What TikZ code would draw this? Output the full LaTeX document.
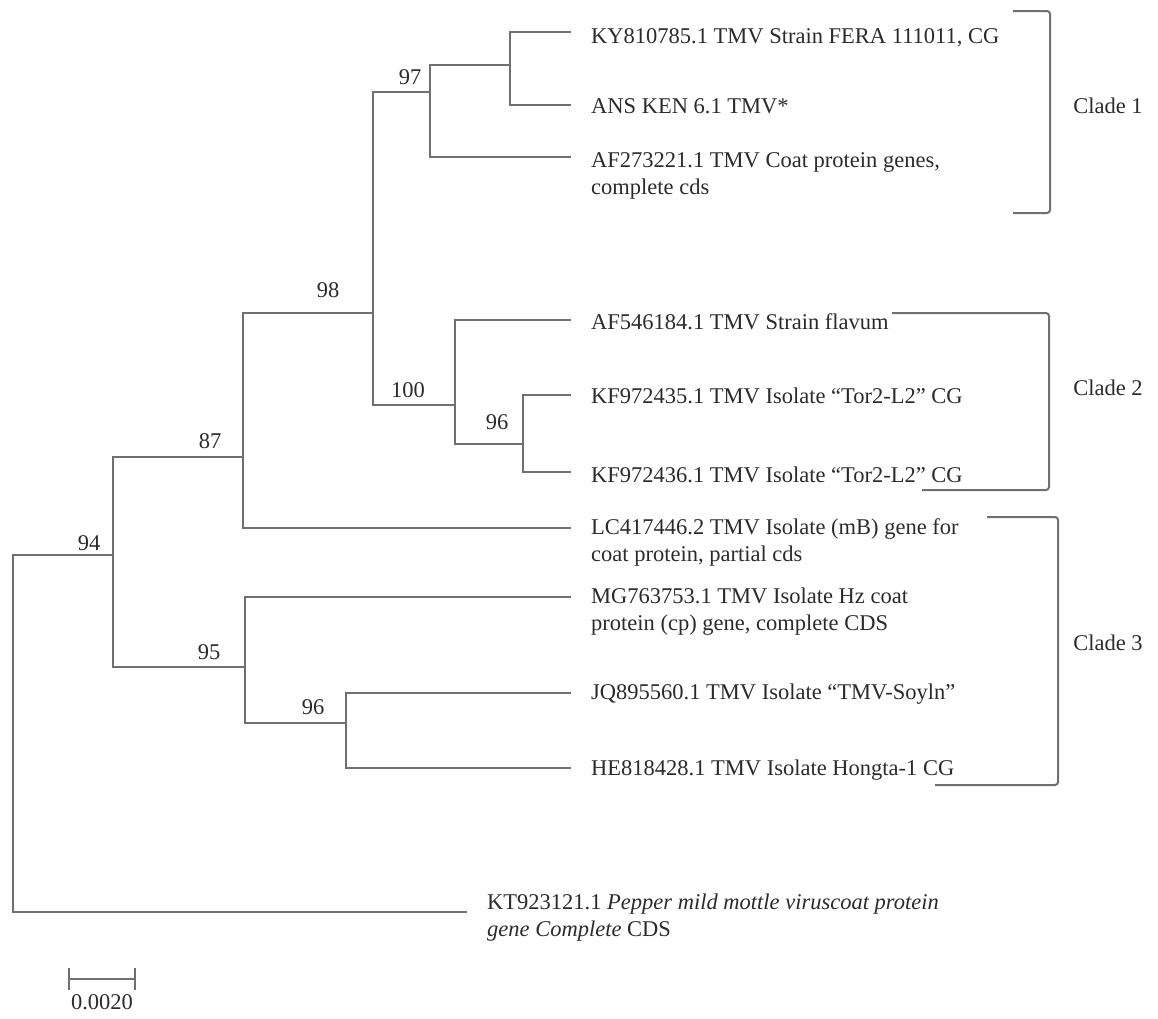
\documentclass[tikz,border=0pt]{standalone}
\usepackage{fontspec}
\setmainfont{Liberation Serif}
\definecolor{linegray}{HTML}{707070}
\definecolor{txt}{HTML}{2B2B2B}
\begin{document}
\begin{tikzpicture}[x=1pt,y=-1pt,
  br/.style={draw=linegray, line width=2pt},
  clade/.style={draw=linegray, line width=2pt, rounded corners=3pt},
  lbl/.style={anchor=base west, inner sep=0pt, text=txt, font=\fontsize{22.5}{27}\selectfont, align=left},
  boot/.style={inner sep=0pt, text=txt, font=\fontsize{22.5}{27}\selectfont},
  cladelbl/.style={inner sep=0pt, text=txt, font=\fontsize{22.5}{27}\selectfont}]
\useasboundingbox (0,0) rectangle (1158,1018);

% internal nodes
\coordinate (root) at (13,555);
\coordinate (n94) at (113,555);
\coordinate (n87) at (243,457);
\coordinate (n95) at (245,667);
\coordinate (n98) at (373,313);
\coordinate (n97) at (430,92);
\coordinate (na)  at (510,65);
\coordinate (n100) at (455,405);
\coordinate (n96a) at (523,444);
\coordinate (n96b) at (346,723);
% leaf tips
\coordinate (lKY)   at (571,32);
\coordinate (lANS)  at (571,105);
\coordinate (lAF2)  at (571,157);
\coordinate (lAF5)  at (571,320);
\coordinate (lKF35) at (571,395);
\coordinate (lKF36) at (571,472);
\coordinate (lLC)   at (571,528);
\coordinate (lMG)   at (571,597);
\coordinate (lJQ)   at (571,693);
\coordinate (lHE)   at (571,768);
\coordinate (lKT)   at (467,912);

% branches
\draw[br] (n94) -- (root) |- (lKT);
\draw[br] (n87) -| (n94) |- (n95);
\draw[br] (n98) -| (n87) |- (lLC);
\draw[br] (n97) -| (n98) |- (n100);
\draw[br] (na) -| (n97) |- (lAF2);
\draw[br] (lKY) -| (na) |- (lANS);
\draw[br] (lAF5) -| (n100) |- (n96a);
\draw[br] (lKF35) -| (n96a) |- (lKF36);
\draw[br] (lMG) -| (n95) |- (n96b);
\draw[br] (lJQ) -| (n96b) |- (lHE);

% bootstrap values
\node[boot] (b97) at (410,77) {97};
\node[boot] (b98) at (328,290) {98};
\node[boot] (b100) at (408,390) {100};
\node[boot] (b96a) at (497,422) {96};
\node[boot] (b87) at (210,441) {87};
\node[boot] (b94) at (89,543) {94};
\node[boot] (b95) at (209,652) {95};
\node[boot] (b96b) at (313,707) {96};

% leaf labels
\node[lbl] (tKY) at (591,43.5) {KY810785.1 TMV Strain FERA 111011, CG};
\node[lbl] (tANS) at (591,113.5) {ANS KEN 6.1 TMV*};
\node[lbl] (tAF2) at (591,194.5) {AF273221.1 TMV Coat protein genes,\\complete cds};
\node[lbl] (tAF5) at (591,329.5) {AF546184.1 TMV Strain flavum};
\node[lbl] (tKF35) at (591,403.5) {KF972435.1 TMV Isolate “Tor2-L2” CG};
\node[lbl] (tKF36) at (591,482.5) {KF972436.1 TMV Isolate “Tor2-L2” CG};
\node[lbl] (tLC) at (591,561.5) {LC417446.2 TMV Isolate (mB) gene for\\coat protein, partial cds};
\node[lbl] (tMG) at (591,630.5) {MG763753.1 TMV Isolate Hz coat\\protein (cp) gene, complete CDS};
\node[lbl] (tJQ) at (591,699.5) {JQ895560.1 TMV Isolate “TMV-Soyln”};
\node[lbl] (tHE) at (591,775.5) {HE818428.1 TMV Isolate Hongta-1 CG};
\node[lbl] (tKT) at (487,936.5) {KT923121.1 \textit{Pepper mild mottle viruscoat protein}\\\textit{gene Complete} CDS};

% clade brackets
\coordinate (c1a) at (1013,11);
\coordinate (c1b) at (1050,11);
\coordinate (c1c) at (1050,213);
\coordinate (c1d) at (1013,213);
\draw[clade] (c1a) -- (c1b) -- (c1c) -- (c1d);
\coordinate (c2a) at (892,313);
\coordinate (c2b) at (1049,313);
\coordinate (c2c) at (1049,490);
\coordinate (c2d) at (922,490);
\draw[clade] (c2a) -- (c2b) -- (c2c) -- (c2d);
\coordinate (c3a) at (987,517);
\coordinate (c3b) at (1058,517);
\coordinate (c3c) at (1058,785);
\coordinate (c3d) at (935,785);
\draw[clade] (c3a) -- (c3b) -- (c3c) -- (c3d);
\node[cladelbl] (cl1) at (1108,106) {Clade 1};
\node[cladelbl] (cl2) at (1108,388) {Clade 2};
\node[cladelbl] (cl3) at (1108,643) {Clade 3};

% scale bar
\coordinate (s1) at (69,979);
\coordinate (s2) at (135,979);
\draw[br] (s1) -- (s2);
\draw[br] ([yshift=-11pt]s1) -- ([yshift=11pt]s1);
\draw[br] ([yshift=-11pt]s2) -- ([yshift=11pt]s2);
\node[boot] (sl) at (102,1002) {0.0020};
\end{tikzpicture}
\end{document}
